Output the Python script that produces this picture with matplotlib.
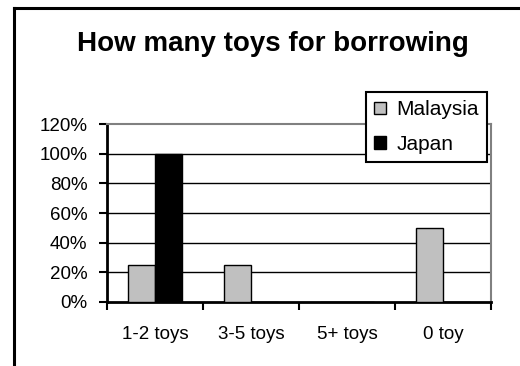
import matplotlib
matplotlib.use('Agg')
import matplotlib.pyplot as plt
from matplotlib.lines import Line2D
from matplotlib.ticker import FixedLocator, FuncFormatter
import numpy as np

plt.rcParams['font.family'] = ['Liberation Sans', 'DejaVu Sans']

categories = ['1-2 toys', '3-5 toys', '5+ toys', '0 toy']
malaysia = [25, 25, 0, 50]
japan = [100, 0, 0, 0]
yticks = [0, 20, 40, 60, 80, 100, 120]

fig = plt.figure(figsize=(5.2, 3.66), dpi=100)
ax = fig.add_axes([107 / 520, 1 - 302 / 366, (491 - 107) / 520, (302 - 124) / 366])

x = np.arange(len(categories))
w = 2 / 7
ax.bar(x - w / 2, malaysia, w, color='#c0c0c0', edgecolor='black', linewidth=1, label='Malaysia', zorder=3)
ax.bar(x + w / 2, japan, w, color='black', edgecolor='black', linewidth=1, label='Japan', zorder=3)

ax.set_xlim(-0.5, len(categories) - 0.5)
ax.set_ylim(0, 120)

# gridlines (black, like the old Excel default)
for v in yticks[1:-1]:
    ax.axhline(v, color='black', linewidth=1, zorder=1)

ax.set_yticks(yticks)
ax.yaxis.set_major_formatter(FuncFormatter(lambda v, p: '{:d}%'.format(int(v))))
ax.tick_params(axis='y', direction='out', length=6, width=1.5, pad=8, labelsize=13.5)

# category labels at centres, tick marks between categories
ax.set_xticks(x)
ax.set_xticklabels(categories)
ax.xaxis.set_minor_locator(FixedLocator(np.arange(len(categories) + 1) - 0.5))
ax.tick_params(axis='x', which='major', length=0, pad=17, labelsize=13.5)
ax.tick_params(axis='x', which='minor', direction='out', length=6, width=1.5)

for side in ['left', 'bottom']:
    ax.spines[side].set_linewidth(2)
    ax.spines[side].set_color('black')
for side in ['top', 'right']:
    ax.spines[side].set_linewidth(1.5)
    ax.spines[side].set_color('#808080')

fig.text(273 / 520, 1 - 44 / 366, 'How many toys for borrowing', ha='center', va='center',
         fontsize=20, fontweight='bold')

leg = ax.legend(loc='upper right', bbox_to_anchor=(487 / 520, 1 - 92 / 366), bbox_transform=fig.transFigure,
                fontsize=15, frameon=True, fancybox=False, framealpha=1, edgecolor='black',
                handlelength=0.55, handleheight=0.55, handletextpad=0.5, labelspacing=0.75,
                borderpad=0.4, borderaxespad=0)
leg.get_frame().set_linewidth(1.5)
leg.set_zorder(5)

# chart area border (left and top edges)
fig.add_artist(Line2D([13.5 / 520, 13.5 / 520], [0, 1 - 7.5 / 366], transform=fig.transFigure,
                      color='black', linewidth=2.2))
fig.add_artist(Line2D([13.5 / 520, 1], [1 - 7.5 / 366, 1 - 7.5 / 366], transform=fig.transFigure,
                      color='black', linewidth=2.2))

fig.savefig('out.png', dpi=100)
